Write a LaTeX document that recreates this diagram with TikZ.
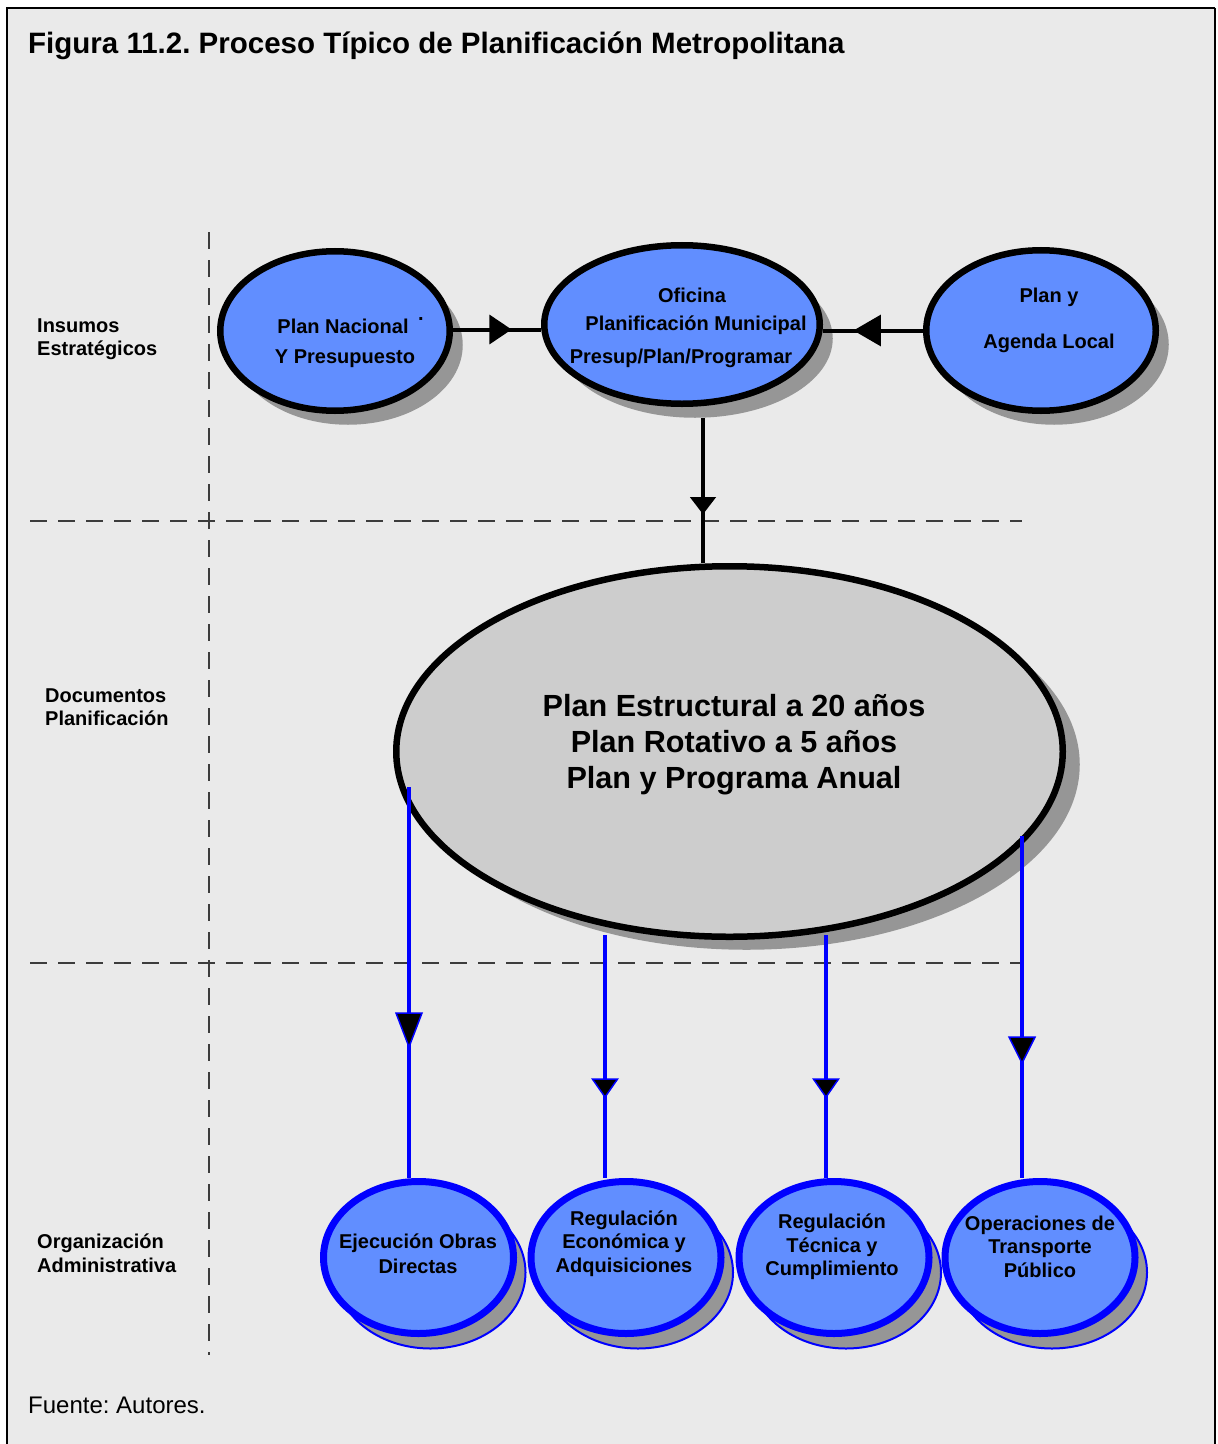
\documentclass[tikz,border=0pt]{standalone}
\usepackage{fontspec}
\setmainfont{Liberation Sans}
\usetikzlibrary{shapes.geometric,shadows,decorations.markings,calc}
\definecolor{bgc}{RGB}{234,234,234}
\definecolor{nodeblue}{RGB}{97,142,255}
\definecolor{shgray}{RGB}{150,150,150}
\definecolor{bigfill}{RGB}{205,205,205}
\definecolor{dashc}{RGB}{60,60,60}
\frenchspacing
\begin{document}
\begin{tikzpicture}[x=1bp,y=-1bp,
  txt/.style={inner sep=0pt, font=\bfseries\fontsize{20bp}{24bp}\selectfont, anchor=base},
  txtw/.style={txt, anchor=base west},
  bigtxt/.style={inner sep=0pt, font=\bfseries\fontsize{30.6bp}{36bp}\selectfont, anchor=base},
  topell/.style={ellipse, draw=black, line width=6.5bp, fill=nodeblue, inner sep=0pt,
    drop shadow={shadow xshift=13bp, shadow yshift=-14bp, fill=shgray, opacity=1}},
  botell/.style={ellipse, draw=blue, line width=7bp, fill=nodeblue, inner sep=0pt,
    minimum width=190bp, minimum height=152bp,
    drop shadow={shadow xshift=12bp, shadow yshift=-15bp, fill=shgray, draw=blue, line width=2bp, opacity=1}},
  bigell/.style={ellipse, draw=black, line width=6.5bp, fill=bigfill, inner sep=0pt,
    drop shadow={shadow xshift=17bp, shadow yshift=-13bp, fill=shgray, opacity=1}},
  conn/.style={draw=black, line width=4bp},
  bconn/.style={draw=blue, line width=4bp},
  midtri/.style n args={4}{postaction={decorate}, decoration={markings,
    mark=at position #1 with {\filldraw[fill=black, draw=#4, line width=1.5bp, line join=miter]
      (0,0) -- (-#2,#3/2) -- (-#2,-#3/2) -- cycle;}}},
  sep/.style={draw=dashc, line width=1.2bp, dash pattern=on 17bp off 11bp}
]
\useasboundingbox (0,0) rectangle (1217,1444);
\fill[white] (0,0) rectangle (1217,1444);
\fill[bgc] (7,8) rectangle (1215,1444);
\draw[line width=2.6bp] (7,1444) -- (7,8) -- (1215,8);
\draw[line width=2bp] (1215,8) -- (1215,1444);

% title and source
\node[anchor=base west, inner sep=0pt, font=\bfseries\fontsize{29.5bp}{34bp}\selectfont] (title) at (28,54)
  {Figura 11.2. Proceso Típico de Planificación Metropolitana};
\node[anchor=base west, inner sep=0pt, font=\fontsize{24bp}{28bp}\selectfont] (src) at (28,1413)
  {Fuente: Autores.};

% separators
\draw[sep] (209,232) -- (209,1355);
\draw[sep] (30,521) -- (1022,521);
\draw[sep] (30,963) -- (1022,963);

% row labels
\node[txtw] (l1a) at (37,332) {Insumos};
\node[txtw] (l1b) at (37,355) {Estratégicos};
\node[txtw] (l2a) at (45,702) {Documentos};
\node[txtw] (l2b) at (45,725) {Planificación};
\node[txtw] (l3a) at (37,1248) {Organización};
\node[txtw] (l3b) at (37,1272) {Administrativa};

% top ellipses
\node[topell, minimum width=229.5bp, minimum height=159.5bp] (pn) at (335,331) {};
\node[topell, minimum width=275.5bp, minimum height=158.5bp] (of) at (682,324.5) {};
\node[topell, minimum width=229.5bp, minimum height=160.5bp] (ag) at (1041,330.5) {};
\node[txt] (pn1) at (343,333) {Plan Nacional};
\node[txt] (pn2) at (345,363) {Y Presupuesto};
\node[txt] (pndot) at (421,320) {.};
\node[txt] (of1) at (692,302) {Oficina};
\node[txt] (of2) at (696,330) {Planificación Municipal};
\node[txt] (of3) at (681,363) {Presup/Plan/Programar};
\node[txt] (ag1) at (1049,302) {Plan y};
\node[txt] (ag2) at (1049,348) {Agenda Local};

% big ellipse
\node[bigell, minimum width=666.5bp, minimum height=370.5bp] (big) at (729.5,751.5) {};
\node[bigtxt] (bt1) at (734,716) {Plan Estructural a 20 años};
\node[bigtxt] (bt2) at (734,752) {Plan Rotativo a 5 años};
\node[bigtxt] (bt3) at (734,788) {Plan y Programa Anual};

% bottom ellipses
\node[botell] (e1) at (418.5,1257.5) {};
\node[botell] (e2) at (626,1257.5) {};
\node[botell] (e3) at (834,1257.5) {};
\node[botell] (e4) at (1040,1257.5) {};
\node[txt] (e1a) at (418,1248) {Ejecución Obras};
\node[txt] (e1b) at (418,1273) {Directas};
\node[txt] (e2a) at (624,1225) {Regulación};
\node[txt] (e2b) at (624,1248) {Económica y};
\node[txt] (e2c) at (624,1272) {Adquisiciones};
\node[txt] (e3a) at (832,1228) {Regulación};
\node[txt] (e3b) at (832,1252) {Técnica y};
\node[txt] (e3c) at (832,1275) {Cumplimiento};
\node[txt] (e4a) at (1040,1230) {Operaciones de};
\node[txt] (e4b) at (1040,1253) {Transporte};
\node[txt] (e4c) at (1040,1277) {Público};

% connectors (top)
\coordinate (pne) at ($(pn.east)+(0,-1.5)$);
\draw[conn, midtri={0.65}{20}{27}{black}] (pne) -- (pne -| of.west);
\draw[conn, midtri={0.68}{25}{29}{black}] (ag.west) -- (of.east |- ag.west);
\coordinate (ofb) at (703,418);
\draw[conn, midtri={0.655}{15}{23}{black}] (ofb) -- (ofb |- big.north);

% connectors (bottom)
\coordinate (s1) at (409,787);
\coordinate (s2) at (605,935);
\coordinate (s3) at (826,935);
\coordinate (s4) at (1022,836);
\draw[bconn, midtri={0.665}{34}{26}{blue}] (s1) -- (s1 |- e1.north);
\draw[bconn, midtri={0.667}{18}{25}{blue}] (s2) -- (s2 |- e2.north);
\draw[bconn, midtri={0.667}{18}{25}{blue}] (s3) -- (s3 |- e3.north);
\draw[bconn, midtri={0.664}{26}{26}{blue}] (s4) -- (s4 |- e4.north);
\end{tikzpicture}
\end{document}
